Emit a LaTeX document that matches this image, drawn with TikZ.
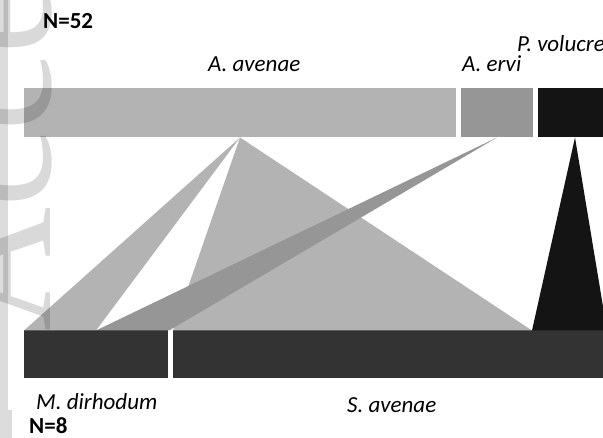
\documentclass[tikz,border=0pt]{standalone}
\usepackage{fontspec}
\setmainfont{Carlito}
\newfontfamily\wmfont{Liberation Serif}
\definecolor{cAv}{HTML}{B3B3B3}
\definecolor{cEr}{HTML}{969696}
\definecolor{cPv}{HTML}{141414}
\definecolor{cBot}{HTML}{333333}
\definecolor{cStrip}{HTML}{DCDCDC}
\begin{document}
\begin{tikzpicture}[x=1pt,y=-1pt,
  topbar/.style={rectangle, inner sep=0pt, outer sep=0pt, minimum height=49pt, anchor=north west, draw=none},
  botbar/.style={rectangle, inner sep=0pt, outer sep=0pt, minimum height=48pt, anchor=north west, draw=none, fill=cBot},
  lab/.style={anchor=base west, inner sep=0pt, font=\fontsize{23}{23}\selectfont\itshape},
  num/.style={anchor=base west, inner sep=0pt, font=\fontsize{23}{23}\selectfont\bfseries},
  flowfill/.style={draw=none}]
\useasboundingbox (0,0) rectangle (603,438);
\clip (0,0) rectangle (603,438);
\fill[white] (0,0) rectangle (603,438);
% left strip
\fill[cStrip] (0,0) rectangle (8,410);
\fill[cStrip] (0,410) rectangle (12,438);
% top bars
\node[topbar, fill=cAv, minimum width=432pt] (topAv) at (24,88) {};
\node[topbar, fill=cEr, minimum width=72pt] (topEr) at (461,88) {};
\node[topbar, fill=cPv, minimum width=72pt] (topPv) at (538,88) {};
% bottom bars
\node[botbar, minimum width=144pt] (botMd) at (24,330) {};
\node[botbar, minimum width=436pt] (botSa) at (173,330) {};
% flow end points
\coordinate (apAv) at (240,137.5);
\coordinate (apEr) at (497,137.5);
\coordinate (apPv) at (575,137.5);
\coordinate (mdA) at (24,330.5);
\coordinate (mdB) at (96,330.5);
\coordinate (mdC) at (169,330.5);
\coordinate (saA) at (173,330.5);
\coordinate (saB) at (532,330.5);
\coordinate (saC) at (607,330.5);
% flows
\fill[cAv, flowfill] (apAv) -- (mdA) -- (mdB) -- cycle;
\fill[cAv, flowfill] (apAv) -- (saA) -- (saB) -- cycle;
\fill[cEr, flowfill] (apEr) -- (mdB) -- (mdC) -- cycle;
\fill[cPv, flowfill] (apPv) -- (saB) -- (saC) -- cycle;
% labels
\node[num] (n52) at (43,29) {N=52};
\node[lab] (lAv) at (208,72) {A. avenae};
\node[lab] (lEr) at (462,72) {A. ervi};
\node[lab] (lPv) at (517,52) {P. volucre};
\node[lab] (lMd) at (36,410) {M. dirhodum};
\node[lab] (lSa) at (347,413) {S. avenae};
\node[num] (n8) at (29,434) {N=8};
% watermark
\node[rotate=90, anchor=base west, inner sep=0pt, text opacity=0.15, font=\wmfont\fontsize{172}{172}\selectfont] (wm) at (50,332) {Accepted Article};
\end{tikzpicture}
\end{document}
